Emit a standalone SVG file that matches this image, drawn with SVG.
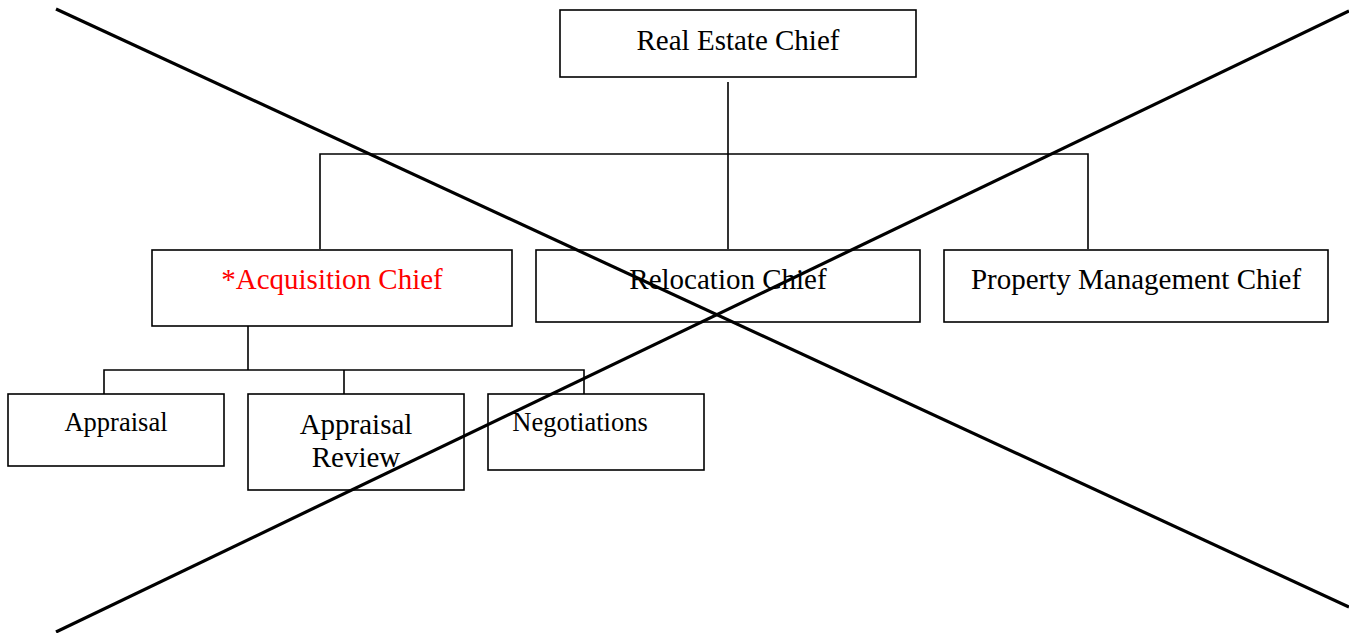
<svg xmlns="http://www.w3.org/2000/svg" width="1349" height="633" viewBox="0 0 1349 633">
<style>
.box{fill:#fff;stroke:#000;stroke-width:1.6}
.conn{fill:none;stroke:#000;stroke-width:1.6}
.t{font-family:"Liberation Serif","Times New Roman",serif;fill:#000;text-anchor:middle}
.big{font-size:29px}
.sm{font-size:26.5px}
.x{stroke:#000;stroke-width:3.2;fill:none}
</style>
<rect width="1349" height="633" fill="#fff"/>
<g id="connectors">
<path class="conn" d="M728 82V249M320 249V154H1088V249"/>
<path class="conn" d="M248 321V370M104 394V370H584V394M344 370V394"/>
</g>
<g id="real-estate-chief"><rect class="box" x="560" y="10" width="356" height="67"/><text class="t big" x="738" y="50">Real Estate Chief</text></g>
<g id="acquisition-chief"><rect class="box" x="152" y="250" width="360" height="76"/><text class="t big" x="332" y="289" style="fill:#ff0000">*Acquisition Chief</text></g>
<g id="relocation-chief"><rect class="box" x="536" y="250" width="384" height="72"/><text class="t big" x="728" y="289">Relocation Chief</text></g>
<g id="property-management-chief"><rect class="box" x="944" y="250" width="384" height="72"/><text class="t big" x="1136" y="289">Property Management Chief</text></g>
<g id="appraisal"><rect class="box" x="8" y="394" width="216" height="72"/><text class="t sm" x="116" y="431">Appraisal</text></g>
<g id="appraisal-review"><rect class="box" x="248" y="394" width="216" height="96"/><text class="t big" x="356" y="434">Appraisal</text><text class="t big" x="356" y="467">Review</text></g>
<g id="negotiations"><rect class="box" x="488" y="394" width="216" height="76"/><text class="t sm" x="580" y="431">Negotiations</text></g>
<g id="cross">
<line class="x" x1="56" y1="9" x2="1349" y2="607"/>
<line class="x" x1="56" y1="632" x2="1349" y2="11"/>
</g>
</svg>
